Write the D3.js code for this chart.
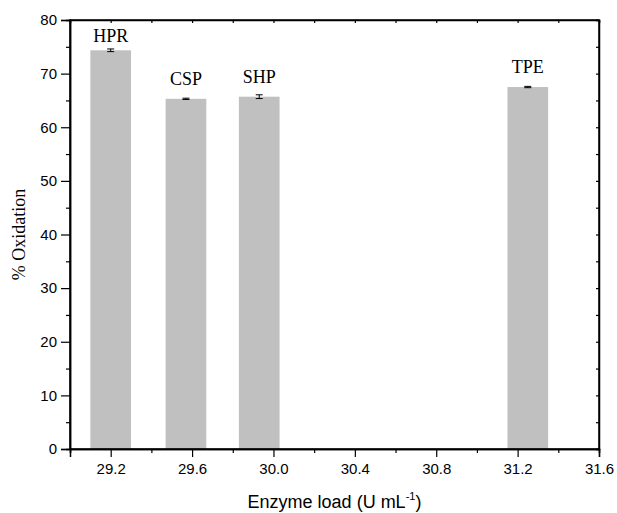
<!DOCTYPE html>
<html><head><meta charset="utf-8">
<script src="https://cdn.jsdelivr.net/npm/d3@7"></script>
<style>body{margin:0;background:#fff}</style>
</head><body><svg id="c" width="617" height="513"></svg>
<script>
const labels = ["HPR", "CSP", "SHP", "TPE"];
const loads = [29.2, 29.57, 29.93, 31.25];
const oxidation = [74.35, 65.3, 65.7, 67.5];
const errors = [0.25, 0.12, 0.35, 0.12];
const xTicks = [29.2, 29.6, 30.0, 30.4, 30.8, 31.2, 31.6];
const yTicks = [0, 10, 20, 30, 40, 50, 60, 70, 80];

const svg = d3.select("#c");
const L = 70, R = 599, T = 20, B = 449;
const x = d3.scaleLinear().domain([29.0, 31.6]).range([L, R]);
const y = d3.scaleLinear().domain([0, 80]).range([B, T]);
const barW = x(29.2) - x(29.0);
const sans = "'Liberation Sans', Arial, sans-serif";
const serif = "'Liberation Serif', 'Times New Roman', serif";

// bars
svg.selectAll("rect.bar").data(labels).enter().append("rect")
  .attr("x", (d, i) => x(loads[i]) - barW / 2)
  .attr("width", barW)
  .attr("y", (d, i) => y(oxidation[i]))
  .attr("height", (d, i) => B - y(oxidation[i]))
  .attr("fill", "#c0c0c0");

// error bars
const eb = svg.append("g").attr("stroke", "#000").attr("stroke-width", 1);
labels.forEach((d, i) => {
  const cx = x(loads[i]);
  const y1 = y(oxidation[i] + errors[i]), y2 = y(oxidation[i] - errors[i]);
  eb.append("line").attr("x1", cx).attr("x2", cx).attr("y1", y1).attr("y2", y2);
  eb.append("line").attr("x1", cx - 3.5).attr("x2", cx + 3.5).attr("y1", y1).attr("y2", y1);
  eb.append("line").attr("x1", cx - 3.5).attr("x2", cx + 3.5).attr("y1", y2).attr("y2", y2);
});

// bar labels
svg.selectAll("text.lab").data(labels).enter().append("text")
  .attr("x", (d, i) => x(loads[i]))
  .attr("y", (d, i) => Math.max(y(oxidation[i]) - 14, 42))
  .attr("text-anchor", "middle")
  .attr("font-family", serif)
  .attr("font-size", 18)
  .text(d => d);

// axes
const fmtX = d3.format(".1f");
const minorX = d3.range(29.0, 31.61, 0.2).filter(v => !xTicks.some(t => Math.abs(t - v) < 1e-6));
const minorY = d3.range(5, 80, 10);

const ax = svg.append("g");
ax.append("g").attr("transform", `translate(0,${B})`)
  .call(d3.axisBottom(x).tickValues(xTicks).tickFormat(fmtX).tickSize(8).tickPadding(6));
ax.append("g").attr("transform", `translate(0,${B})`)
  .call(d3.axisBottom(x).tickValues(minorX).tickFormat("").tickSize(4));
ax.append("g").attr("transform", `translate(${L},0)`)
  .call(d3.axisLeft(y).tickValues(yTicks).tickSize(9).tickPadding(4));
ax.append("g").attr("transform", `translate(${L},0)`)
  .call(d3.axisLeft(y).tickValues(minorY).tickFormat("").tickSize(4));
// top & right mirror ticks (inward)
ax.append("g").attr("transform", `translate(0,${T})`)
  .call(d3.axisTop(x).tickValues(xTicks.concat(minorX)).tickFormat("").tickSize(-3));
ax.append("g").attr("transform", `translate(${R},0)`)
  .call(d3.axisRight(y).tickValues(yTicks.concat(minorY)).tickFormat("").tickSize(-3));

ax.selectAll(".domain").attr("stroke", "#000").attr("stroke-width", 1.5);
ax.selectAll(".tick line").attr("stroke", "#000").attr("stroke-width", 1.2);
ax.selectAll(".tick text").attr("font-family", sans)
  .attr("font-size", 15).attr("fill", "#000");
// frame
svg.append("rect").attr("x", L).attr("y", T).attr("width", R - L).attr("height", B - T)
  .attr("fill", "none").attr("stroke", "#000").attr("stroke-width", 1.5);

// axis titles
const xt = svg.append("text").attr("x", (L + R) / 2).attr("y", 508)
  .attr("text-anchor", "middle").attr("font-family", sans)
  .attr("font-size", 18);
xt.append("tspan").text("Enzyme load (U mL");
xt.append("tspan").attr("font-size", 11).attr("dy", -8).text("-1");
xt.append("tspan").attr("dy", 8).text(")");

svg.append("text").attr("transform", `translate(25,${(T + B) / 2}) rotate(-90)`)
  .attr("text-anchor", "middle").attr("font-family", serif)
  .attr("font-size", 18).text("% Oxidation");
</script></body></html>
